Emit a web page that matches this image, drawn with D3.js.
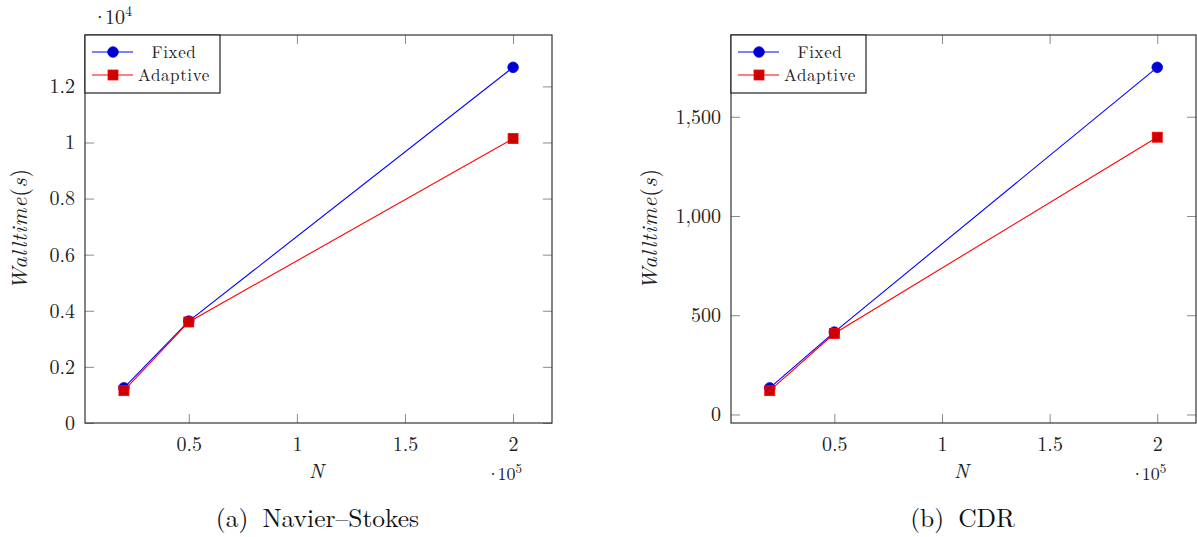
<!DOCTYPE html>
<html>
<head>
<meta charset="utf-8">
<script src="https://cdn.jsdelivr.net/npm/d3@7"></script>
<style>
  html, body { margin: 0; padding: 0; background: #fff; }
  svg { display: block; }
</style>
</head>
<body>
<svg id="chart" width="1197" height="537"></svg>
<script>
// Problem sizes (number of unknowns)
const nValues = [20000, 50000, 200000];

// Navier–Stokes wall time (s)
const nsFixed = [1250, 3630, 12680];
const nsAdaptive = [1150, 3600, 10140];

// CDR wall time (s)
const cdrFixed = [134, 415, 1749];
const cdrAdaptive = [120, 408, 1397];

// Tick values and labels
const xTicks = [50000, 100000, 150000, 200000];
const xTickLabels = ["0.5", "1", "1.5", "2"];
const nsYTicks = [0, 2000, 4000, 6000, 8000, 10000, 12000];
const nsYTickLabels = ["0", "0.2", "0.4", "0.6", "0.8", "1", "1.2"];
const cdrYTicks = [0, 500, 1000, 1500];
const cdrYTickLabels = ["0", "500", "1,000", "1,500"];

const seriesNames = ["Fixed", "Adaptive"];
const captions = ["(a)", "Navier–Stokes", "(b)", "CDR"];

const FONT = "'Latin Modern Roman', 'CMU Serif', 'Liberation Serif', serif";
const svg = d3.select("#chart").attr("font-family", FONT);
const plotTop = 35, plotBottom = 423;
const tickLen = 9;

// pgfplots-style enlarged limits (10% on each side)
function enlarged(vals) {
  const [lo, hi] = d3.extent(vals);
  const pad = 0.1 * (hi - lo);
  return [lo - pad, hi + pad];
}

const panels = [
  { x0: 85, x1: 552, fixed: nsFixed, adaptive: nsAdaptive, yTicks: nsYTicks, yLabels: nsYTickLabels,
    yLabelX: 19, caption: [captions[0], captions[1]], yMultiplier: "4" },
  { x0: 731, x1: 1196, fixed: cdrFixed, adaptive: cdrAdaptive, yTicks: cdrYTicks, yLabels: cdrYTickLabels,
    yLabelX: 649, caption: [captions[2], captions[3]], yMultiplier: null }
];

panels.forEach(p => {
  const g = svg.append("g");
  const x = d3.scaleLinear().domain(enlarged(nValues)).range([p.x0, p.x1]);
  const y = d3.scaleLinear().domain(enlarged(p.fixed.concat(p.adaptive))).range([plotBottom, plotTop]);

  const styleAxis = sel => {
    sel.attr("font-family", FONT);
    sel.select(".domain").remove();
    sel.selectAll(".tick line").attr("stroke", "#8a8a8a").attr("stroke-width", 1);
    sel.selectAll(".tick text").attr("fill", "#222").attr("font-size", 20)
      .attr("font-family", FONT);
  };

  // Bottom axis with inward ticks
  g.append("g").attr("transform", `translate(0,${plotBottom})`)
    .call(d3.axisBottom(x).tickValues(xTicks).tickSize(-tickLen).tickPadding(14)
      .tickFormat((d, i) => xTickLabels[i]))
    .call(styleAxis)
    .selectAll(".tick text").attr("dy", "0.71em");
  // Top mirrored ticks
  g.append("g").attr("transform", `translate(0,${plotTop})`)
    .call(d3.axisTop(x).tickValues(xTicks).tickSize(-tickLen).tickFormat(""))
    .call(styleAxis);
  // Left axis with inward ticks
  g.append("g").attr("transform", `translate(${p.x0},0)`)
    .call(d3.axisLeft(y).tickValues(p.yTicks).tickSize(-tickLen).tickPadding(10)
      .tickFormat((d, i) => p.yLabels[i]))
    .call(styleAxis);
  // Right mirrored ticks
  g.append("g").attr("transform", `translate(${p.x1},0)`)
    .call(d3.axisRight(y).tickValues(p.yTicks).tickSize(-tickLen).tickFormat(""))
    .call(styleAxis);

  // Axis frame
  g.append("rect")
    .attr("x", p.x0).attr("y", plotTop)
    .attr("width", p.x1 - p.x0).attr("height", plotBottom - plotTop)
    .attr("fill", "none").attr("stroke", "#333").attr("stroke-width", 1.2);

  const line = d3.line().x((d, i) => x(nValues[i])).y(d => y(d));

  // Fixed series: blue line with circles
  g.append("path").datum(p.fixed).attr("d", line)
    .attr("fill", "none").attr("stroke", "#0000ff").attr("stroke-width", 1.1);
  g.selectAll(".fixed-mark").data(p.fixed).join("circle")
    .attr("class", "fixed-mark")
    .attr("cx", (d, i) => x(nValues[i])).attr("cy", d => y(d)).attr("r", 5.3)
    .attr("fill", "#0000cc").attr("stroke", "#0000ff").attr("stroke-width", 0.8);

  // Adaptive series: red line with squares
  g.append("path").datum(p.adaptive).attr("d", line)
    .attr("fill", "none").attr("stroke", "#ff0000").attr("stroke-width", 1.1);
  g.selectAll(".adaptive-mark").data(p.adaptive).join("rect")
    .attr("class", "adaptive-mark")
    .attr("x", (d, i) => x(nValues[i]) - 5).attr("y", d => y(d) - 5)
    .attr("width", 10).attr("height", 10)
    .attr("fill", "#cc0000").attr("stroke", "#ff0000").attr("stroke-width", 0.8);

  // Legend
  const lg = g.append("g").attr("transform", `translate(${p.x0},${plotTop})`);
  lg.append("rect").attr("x", 0).attr("y", 0).attr("width", 135).attr("height", 58)
    .attr("fill", "#fff").attr("stroke", "#222").attr("stroke-width", 1.2);
  const rows = [
    { name: seriesNames[0], color: "#0000ff", fill: "#0000cc", shape: "circle", yy: 17 },
    { name: seriesNames[1], color: "#ff0000", fill: "#cc0000", shape: "square", yy: 40 }
  ];
  rows.forEach(r => {
    lg.append("line").attr("x1", 7).attr("x2", 48).attr("y1", r.yy).attr("y2", r.yy)
      .attr("stroke", r.color).attr("stroke-width", 1.1);
    if (r.shape === "circle") {
      lg.append("circle").attr("cx", 28).attr("cy", r.yy).attr("r", 5.3)
        .attr("fill", r.fill).attr("stroke", r.color).attr("stroke-width", 0.8);
    } else {
      lg.append("rect").attr("x", 23).attr("y", r.yy - 5).attr("width", 10).attr("height", 10)
        .attr("fill", r.fill).attr("stroke", r.color).attr("stroke-width", 0.8);
    }
    lg.append("text").attr("x", 89).attr("y", r.yy).attr("dy", "0.33em")
      .attr("text-anchor", "middle").attr("font-size", 17).attr("fill", "#222")
      .attr("letter-spacing", 0.6).text(r.name);
  });

  const cx = (p.x0 + p.x1) / 2;

  // x-axis label
  g.append("text").attr("x", cx - 2).attr("y", 478).attr("text-anchor", "middle")
    .attr("font-size", 20).attr("font-style", "italic").attr("fill", "#222").text("N");

  // x-axis scale multiplier
  const mx = g.append("text").attr("x", x(200000) - 27).attr("y", 480)
    .attr("font-size", 18).attr("fill", "#222");
  mx.append("tspan").attr("letter-spacing", -2.5).text("·");
  mx.append("tspan").text("10");
  mx.append("tspan").attr("dy", -7).attr("font-size", 13).text("5");

  // y-axis scale multiplier
  if (p.yMultiplier) {
    const my = g.append("text").attr("x", p.x0 + 7).attr("y", 24)
      .attr("font-size", 20).attr("fill", "#222");
    my.append("tspan").attr("letter-spacing", -2.5).text("·");
    my.append("tspan").text("10");
    my.append("tspan").attr("dy", -8).attr("font-size", 14).text(p.yMultiplier);
  }

  // y-axis label
  const yl = g.append("text")
    .attr("transform", `translate(${p.yLabelX + 8},229) rotate(-90)`)
    .attr("text-anchor", "middle").attr("font-size", 22).attr("letter-spacing", 0.8)
    .attr("fill", "#222");
  yl.append("tspan").attr("font-style", "italic").text("Walltime");
  yl.append("tspan").text("(");
  yl.append("tspan").attr("font-style", "italic").text("s");
  yl.append("tspan").text(")");

  // Sub-figure caption: label, gap, title
  const cap = g.append("text").attr("x", cx - 1).attr("y", 527).attr("text-anchor", "middle")
    .attr("font-size", 25.5).attr("fill", "#111");
  cap.append("tspan").text(p.caption[0]);
  cap.append("tspan").attr("dx", 14).text(p.caption[1]);
});
</script>
</body>
</html>
